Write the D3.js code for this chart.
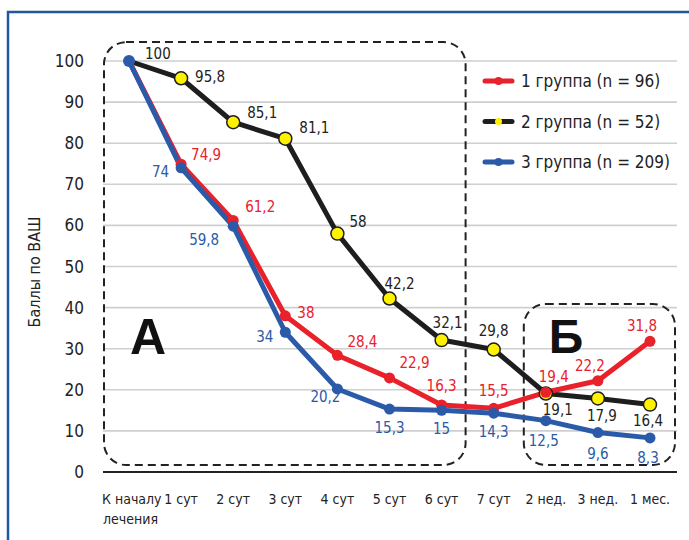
<!DOCTYPE html>
<html>
<head>
<meta charset="utf-8">
<script src="https://cdn.jsdelivr.net/npm/d3@7"></script>
<style>
  body { margin: 0; background: #fff; }
  svg { display: block; font-family: "Liberation Sans Narrow", "DejaVu Sans Condensed", "Roboto", sans-serif; }
</style>
</head>
<body>
<div id="chart"></div>
<script>
// Data
const categories = ['К началу', '1 сут', '2 сут', '3 сут', '4 сут', '5 сут', '6 сут', '7 сут', '2 нед.', '3 нед.', '1 мес.'];
const group1 = [100, 74.9, 61.2, 38, 28.4, 22.9, 16.3, 15.5, 19.4, 22.2, 31.8];
const group2 = [100, 95.8, 85.1, 81.1, 58, 42.2, 32.1, 29.8, 19.1, 17.9, 16.4];
const group3 = [100, 74, 59.8, 34, 20.2, 15.3, 15, 14.3, 12.5, 9.6, 8.3];
const seriesNames = ['1 группа (n = 96)', '2 группа (n = 52)', '3 группа (n = 209)'];
const yTicks = [0, 10, 20, 30, 40, 50, 60, 70, 80, 90, 100];

// Label placement per point: [dx, dy, anchor]
const labelPos1 = [null, [10, -4, 'start'], [12, -8, 'start'], [12, 2, 'start'], [10, -8, 'start'], [10, -10, 'start'],
  [0, -14, 'middle'], [0, -12, 'middle'], [8, -10, 'middle'], [-8, -10, 'middle'], [-8, -10, 'middle']];
const labelPos2 = [[16, -2, 'start'], [14, 4, 'start'], [14, -4, 'start'], [14, -6, 'start'], [12, -7, 'start'],
  [10, -10, 'middle'], [6, -12, 'middle'], [0, -14, 'middle'], [12, 22, 'middle'], [4, 23, 'middle'], [-2, 21, 'middle']];
const labelPos3 = [null, [-12, 9, 'end'], [-14, 19, 'end'], [-12, 10, 'end'], [-12, 13, 'middle'], [0, 24, 'middle'],
  [0, 24, 'middle'], [0, 24, 'middle'], [-2, 25, 'middle'], [0, 26, 'middle'], [-2, 25, 'middle']];

const W = 689, H = 540;
const red = '#e8212b', black = '#1e1e1e', blue = '#2b5aa8', yellow = '#fff200';

const svg = d3.select('#chart').append('svg').attr('width', W).attr('height', H);

const x = d3.scalePoint().domain(categories).range([129, 650]);
const y = d3.scaleLinear().domain([0, 100]).range([472, 61]);

// Frame
svg.append('path')
  .attr('d', `M8,${H} L8,12 L${W},12`)
  .attr('fill', 'none').attr('stroke', '#1f57a0').attr('stroke-width', 2.5);

// Grid
svg.append('g').selectAll('line').data(yTicks.filter(d => d > 0)).join('line')
  .attr('x1', 103).attr('x2', 677)
  .attr('y1', d => y(d)).attr('y2', d => y(d))
  .attr('stroke', '#cfcfcf').attr('stroke-width', 1.6);

// Y tick labels
svg.append('g').selectAll('text').data(yTicks).join('text')
  .attr('x', 84).attr('y', d => y(d) + 6)
  .attr('text-anchor', 'end').attr('font-size', 17).attr('fill', '#222')
  .text(d => d);

// Y title
svg.append('text')
  .attr('transform', `translate(40,272) rotate(-90)`)
  .attr('text-anchor', 'middle').attr('font-size', 16).attr('fill', '#222')
  .text('Баллы по ВАШ');

// X axis line
svg.append('line')
  .attr('x1', 103).attr('x2', 677).attr('y1', y(0)).attr('y2', y(0))
  .attr('stroke', '#222').attr('stroke-width', 2.2);

// X labels
svg.append('g').selectAll('text').data(categories).join('text')
  .attr('x', (d, i) => i === 0 ? x(d) - 27 : x(d))
  .attr('y', 504)
  .attr('text-anchor', (d, i) => i === 0 ? 'start' : 'middle')
  .attr('font-size', 14).attr('fill', '#222')
  .text(d => d);
svg.append('text').attr('x', x(categories[0]) - 26).attr('y', 524)
  .attr('font-size', 14).attr('fill', '#222').text('лечения');

// Dashed region boxes
function dashedBox(x0, y0, x1, y1, r) {
  svg.append('rect')
    .attr('x', x0).attr('y', y0).attr('width', x1 - x0).attr('height', y1 - y0)
    .attr('rx', r).attr('ry', r)
    .attr('fill', 'none').attr('stroke', '#222').attr('stroke-width', 2)
    .attr('stroke-dasharray', '8,5');
}
dashedBox(x(categories[0]) - 25, y(104.6), x('6 сут') + 24, y(1.7), 22);
dashedBox(x('2 нед.') - 22, y(40.9), x('1 мес.') + 25, y(1.7), 22);

svg.append('text').attr('x', 148).attr('y', 354).attr('text-anchor', 'middle')
  .attr('font-family', 'Liberation Sans, Arial, sans-serif')
  .attr('font-weight', 'bold').attr('font-size', 50).attr('fill', '#111').text('А');
svg.append('text').attr('x', 566).attr('y', 353).attr('text-anchor', 'middle')
  .attr('font-family', 'Liberation Sans, Arial, sans-serif')
  .attr('font-weight', 'bold').attr('font-size', 48).attr('fill', '#111').text('Б');

// Series
const series = [
  { vals: group2, color: black, fill: yellow, r: 6.5, labels: labelPos2, textColor: '#222', skipFirst: true },
  { vals: group1, color: red, fill: red, r: 5.5, labels: labelPos1, textColor: red, skipFirst: true },
  { vals: group3, color: blue, fill: blue, r: 5.5, labels: labelPos3, textColor: blue, skipFirst: false }
];

const line = d3.line().x((d, i) => x(categories[i])).y(d => y(d));

series.forEach(s => {
  svg.append('path').datum(s.vals)
    .attr('d', line).attr('fill', 'none')
    .attr('stroke', s.color).attr('stroke-width', 5)
    .attr('stroke-linejoin', 'round');
});
series.forEach(s => {
  svg.append('g').selectAll('circle')
    .data(s.vals.map((v, i) => ({ v, i })).filter(d => !(s.skipFirst && d.i === 0)))
    .join('circle')
    .attr('cx', d => x(categories[d.i])).attr('cy', d => y(d.v))
    .attr('r', d => d.i === 0 ? 6 : s.r).attr('fill', s.fill)
    .attr('stroke', s.color).attr('stroke-width', s.fill === yellow ? 1.5 : 0);
});
series.forEach(s => {
  svg.append('g').selectAll('text').data(s.vals.map((v, i) => ({ v, i })).filter(d => s.labels[d.i]))
    .join('text')
    .attr('x', d => x(categories[d.i]) + s.labels[d.i][0])
    .attr('y', d => y(d.v) + s.labels[d.i][1])
    .attr('text-anchor', d => s.labels[d.i][2])
    .attr('font-size', 15).attr('fill', s.textColor)
    .text(d => String(d.v).replace('.', ','));
});

// Legend
const legendColors = [[red, red], [black, yellow], [blue, blue]];
const lg = svg.append('g');
seriesNames.forEach((name, i) => {
  const ly = 81 + i * 40.5;
  lg.append('line').attr('x1', 485).attr('x2', 512).attr('y1', ly).attr('y2', ly)
    .attr('stroke', legendColors[i][0]).attr('stroke-width', 5).attr('stroke-linecap', 'round');
  lg.append('circle').attr('cx', 498.5).attr('cy', ly).attr('r', i === 1 ? 3.5 : 4)
    .attr('fill', legendColors[i][1]);
  lg.append('text').attr('x', 521).attr('y', ly + 6)
    .attr('font-size', 17).attr('fill', '#222').text(name);
});
</script>
</body>
</html>
